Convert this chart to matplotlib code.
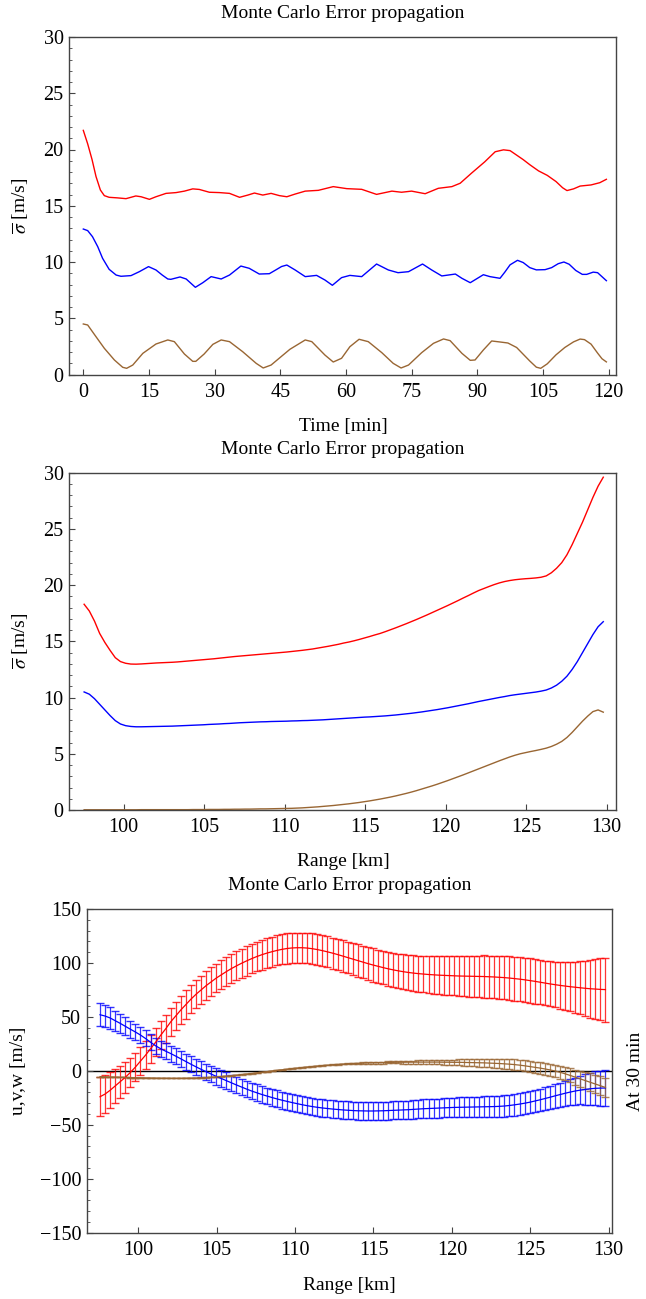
import numpy as np
import matplotlib
matplotlib.use("Agg")
import matplotlib.pyplot as plt
from matplotlib.ticker import MultipleLocator, FuncFormatter

plt.rcParams['font.family'] = ['Liberation Serif', 'DejaVu Serif']
plt.rcParams['mathtext.fontset'] = 'stix'

# ---------------- data: top panel (sigma vs time) ----------------
red_t = [0, 1, 2, 2.9, 3.9, 4.8, 5.9, 7.8, 9.75, 12.0, 13.2, 15.1, 16.6, 18.9, 21.2, 23.1, 25.0, 26.5,
         28.8, 31.1, 33.4, 35.7, 37.6, 39.1, 41.0, 42.9, 44.8, 46.5, 48.4, 50.7, 53.7, 57.1, 60.2,
         63.6, 67.0, 70.5, 72.7, 75.0, 78.1, 81.1, 84.2, 86.1, 88.7, 91.7, 94.1, 96.0, 97.5, 99.0,
         100.5, 102.0, 104.0, 106.0, 108.0, 109.5, 110.5, 112.0, 113.5, 116.0, 118.0, 119.5]
red_sig_t = [21.7, 20.5, 19.1, 17.6, 16.4, 15.9, 15.75, 15.7, 15.63, 15.87, 15.8, 15.57, 15.8, 16.1,
             16.17, 16.3, 16.5, 16.45, 16.2, 16.17, 16.1, 15.75, 15.95, 16.13, 15.95, 16.1, 15.9, 15.8,
             16.04, 16.3, 16.37, 16.7, 16.52, 16.46, 16.01, 16.3, 16.2, 16.3, 16.07, 16.55, 16.7, 17.0,
             17.9, 18.9, 19.8, 19.97, 19.9, 19.5, 19.1, 18.65, 18.1, 17.7, 17.15, 16.6, 16.35, 16.5,
             16.75, 16.85, 17.05, 17.35]

blue_t = [0, 1, 2.1, 3.3, 4.4, 5.9, 7.5, 8.6, 10.9, 12.8, 14.9, 16.6, 18.0, 19.3, 20.0, 22.1, 23.5,
          25.6, 27.3, 29.2, 31.5, 33.4, 36.0, 37.9, 40.2, 42.5, 44.0, 45.3, 46.5, 48.4, 50.7, 53.3,
          55.2, 56.9, 59.0, 60.9, 63.6, 67.0, 69.7, 71.9, 74.3, 77.5, 79.6, 81.9, 85.0, 86.5, 88.4,
          91.4, 92.9, 95.2, 96.3, 97.5, 99.2, 100.5, 102.0, 103.5, 105.5, 107.0, 108.5, 109.8,
          111.0, 112.5, 114.0, 115.0, 116.5, 117.5, 119.5]
blue_sig_t = [12.93, 12.79, 12.25, 11.36, 10.33, 9.35, 8.84, 8.73, 8.79, 9.14, 9.59, 9.29, 8.85,
              8.49, 8.46, 8.67, 8.49, 7.75, 8.16, 8.7, 8.49, 8.84, 9.64, 9.44, 8.93, 8.96, 9.3, 9.6,
              9.73, 9.29, 8.7, 8.81, 8.4, 7.93, 8.61, 8.81, 8.7, 9.82, 9.29, 9.05, 9.14, 9.82, 9.29,
              8.76, 8.93, 8.55, 8.16, 8.87, 8.7, 8.55, 9.1, 9.75, 10.15, 9.95, 9.5, 9.3, 9.32, 9.5,
              9.85, 10.0, 9.8, 9.25, 8.9, 8.9, 9.1, 9.05, 8.34]

brown_t = [0, 1, 2.9, 4.8, 7.1, 9.0, 9.9, 11.3, 13.6, 16.6, 19.3, 20.8, 23.1, 25.0, 25.7, 27.6, 29.6,
           31.5, 33.4, 36.4, 39.5, 41.1, 42.9, 45.2, 47.2, 50.7, 52.2, 55.2, 57.1, 59.0, 60.9, 63.0,
           65.1, 68.2, 70.8, 72.6, 74.3, 77.3, 80.0, 82.3, 83.8, 86.5, 88.4, 89.5, 91.4, 93.3, 95.2,
           97.0, 99.0, 100.0, 102.0, 103.5, 104.5, 106.0, 108.0, 110.0, 112.0, 113.5, 114.5, 116.0,
           117.5, 118.5, 119.5]
brown_sig_t = [4.49, 4.4, 3.36, 2.33, 1.29, 0.64, 0.55, 0.84, 1.88, 2.71, 3.07, 2.92, 1.82, 1.17,
               1.17, 1.82, 2.68, 3.07, 2.92, 2.03, 0.99, 0.58, 0.84, 1.59, 2.24, 3.07, 2.92, 1.73,
               1.11, 1.44, 2.47, 3.13, 2.92, 1.94, 0.99, 0.58, 0.84, 1.94, 2.77, 3.16, 3.01, 1.88,
               1.26, 1.29, 2.18, 2.98, 2.89, 2.8, 2.4, 2.0, 1.2, 0.65, 0.55, 0.95, 1.75, 2.4, 2.9,
               3.15, 3.1, 2.7, 1.9, 1.4, 1.12]

# ---------------- data: range grid (middle & bottom panels) ----------------
range_km = np.linspace(97.55, 129.8, 101)

red_sig_r = [18.3, 17.7, 16.8, 15.7, 14.9, 14.2, 13.55, 13.2, 13.05, 12.98,
             12.97, 12.99, 13.02, 13.05, 13.08, 13.10, 13.12, 13.14, 13.17, 13.21,
             13.25, 13.29, 13.33, 13.37, 13.41, 13.45, 13.50, 13.55, 13.60, 13.65,
             13.69, 13.73, 13.77, 13.81, 13.85, 13.89, 13.93, 13.97, 14.01, 14.05,
             14.10, 14.15, 14.20, 14.26, 14.32, 14.40, 14.48, 14.56, 14.65, 14.74,
             14.85, 14.94, 15.05, 15.17, 15.30, 15.43, 15.57, 15.70, 15.86, 16.03,
             16.20, 16.38, 16.56, 16.75, 16.94, 17.14, 17.34, 17.55, 17.76, 17.97,
             18.18, 18.40, 18.62, 18.85, 19.07, 19.30, 19.52, 19.70, 19.88, 20.05,
             20.20, 20.32, 20.41, 20.48, 20.53, 20.57, 20.60, 20.64, 20.70, 20.82,
             21.10, 21.5, 22.0, 22.7, 23.6, 24.6, 25.6, 26.7, 27.8, 28.8,
             29.6]

blue_sig_r = [10.5, 10.3, 9.9, 9.4, 8.9, 8.4, 7.95, 7.65, 7.5, 7.43,
              7.40, 7.40, 7.41, 7.42, 7.43, 7.44, 7.45, 7.46, 7.48, 7.50,
              7.52, 7.54, 7.56, 7.58, 7.61, 7.63, 7.65, 7.68, 7.70, 7.73,
              7.76, 7.78, 7.80, 7.82, 7.84, 7.85, 7.87, 7.88, 7.89, 7.90,
              7.92, 7.93, 7.95, 7.96, 7.98, 8.00, 8.02, 8.05, 8.08, 8.11,
              8.14, 8.17, 8.20, 8.23, 8.26, 8.28, 8.31, 8.34, 8.37, 8.41,
              8.45, 8.50, 8.55, 8.60, 8.66, 8.72, 8.79, 8.86, 8.93, 9.01,
              9.09, 9.18, 9.27, 9.36, 9.45, 9.55, 9.65, 9.74, 9.83, 9.92,
              10.01, 10.09, 10.18, 10.25, 10.31, 10.37, 10.43, 10.49, 10.57, 10.67,
              10.85, 11.1, 11.45, 11.9, 12.5, 13.2, 14.0, 14.8, 15.6, 16.3,
              16.75]

brown_sig_r = [0.02, 0.02, 0.02, 0.02, 0.02, 0.02, 0.02, 0.02, 0.02, 0.02,
               0.02, 0.03, 0.03, 0.03, 0.03, 0.03, 0.03, 0.03, 0.03, 0.03,
               0.03, 0.04, 0.04, 0.04, 0.05, 0.05, 0.05, 0.06, 0.06, 0.07,
               0.07, 0.08, 0.08, 0.09, 0.10, 0.10, 0.11, 0.12, 0.13, 0.14,
               0.15, 0.17, 0.19, 0.22, 0.25, 0.28, 0.32, 0.36, 0.40, 0.45,
               0.50, 0.55, 0.61, 0.67, 0.74, 0.81, 0.89, 0.97, 1.06, 1.15,
               1.25, 1.36, 1.47, 1.59, 1.72, 1.86, 2.00, 2.14, 2.29, 2.45,
               2.61, 2.78, 2.95, 3.12, 3.30, 3.48, 3.66, 3.84, 4.02, 4.20,
               4.38, 4.55, 4.72, 4.87, 5.00, 5.10, 5.20, 5.29, 5.39, 5.50,
               5.65, 5.85, 6.10, 6.45, 6.90, 7.40, 7.90, 8.35, 8.75, 8.90,
               8.70]

u_mean = [-24, -21.5, -18, -14, -10, -6, -1.5, 3.5, 9, 14.5,
          20.5, 26.5, 33, 39, 45.5, 51, 56.5, 61.5, 66.5, 71,
          75, 79, 82.5, 86, 89, 92, 94.8, 97.3, 99.7, 101.9,
          104, 105.9, 107.6, 109.1, 110.4, 111.6, 112.6, 113.4, 113.9, 114.1,
          114.1, 113.8, 113.2, 112.4, 111.4, 110.3, 109.1, 107.8, 106.4, 105,
          103.6, 102.2, 100.8, 99.4, 98.1, 96.9, 95.7, 94.6, 93.6, 92.7,
          91.9, 91.2, 90.6, 90.1, 89.7, 89.3, 89.0, 88.7, 88.5, 88.3,
          88.1, 87.9, 87.8, 87.7, 87.6, 87.5, 87.4, 87.2, 87.0, 86.7,
          86.4, 86.0, 85.5, 85.0, 84.4, 83.7, 83.0, 82.2, 81.4, 80.6,
          79.9, 79.2, 78.6, 78.0, 77.5, 77.0, 76.5, 76.1, 75.8, 75.5,
          75.3]

v_mean = [52.0, 50.8, 49.0, 46.5, 44.0, 41.3, 38.6, 36.0, 33.2, 30.0,
          26.5, 23.2, 20.5, 18.2, 16.0, 13.6, 11.1, 8.6, 6.1, 3.7,
          1.4, -0.8, -3.0, -5.1, -7.1, -9.1, -11.1, -13.1, -15.0, -16.9,
          -18.7, -20.3, -21.9, -23.3, -24.7, -26.0, -27.2, -28.3, -29.4, -30.4,
          -31.4, -32.3, -33.1, -33.8, -34.4, -34.9, -35.4, -35.8, -36.2, -36.5,
          -36.8, -37.0, -37.1, -37.2, -37.2, -37.1, -37.0, -36.8, -36.6, -36.4,
          -36.2, -36.0, -35.7, -35.4, -35.1, -34.9, -34.7, -34.5, -34.3, -34.1,
          -33.9, -33.8, -33.7, -33.6, -33.5, -33.4, -33.3, -33.2, -33.1, -32.9,
          -32.6, -32.1, -31.5, -30.8, -30.0, -29.1, -28.0, -26.9, -25.7, -24.5,
          -23.2, -22.0, -20.8, -19.7, -18.7, -17.9, -17.2, -16.6, -16.2, -16.0,
          -15.9]

w_mean = [-5.3, -5.5, -5.7, -5.8, -6.0, -6.1, -6.2, -6.3, -6.4, -6.5,
          -6.6, -6.7, -6.8, -6.8, -6.9, -6.9, -6.9, -6.8, -6.7, -6.6,
          -6.4, -6.2, -5.9, -5.6, -5.2, -4.8, -4.4, -3.9, -3.4, -2.9,
          -2.4, -1.8, -1.2, -0.7, -0.1, 0.5, 1.0, 1.6, 2.1, 2.6,
          3.1, 3.6, 4.0, 4.5, 4.9, 5.3, 5.6, 6.0, 6.3, 6.6,
          6.8, 7.0, 7.2, 7.4, 7.5, 7.6, 7.7, 7.8, 7.9, 8.0,
          8.0, 8.1, 8.1, 8.1, 8.1, 8.1, 8.1, 8.1, 8.0, 8.0,
          7.9, 7.9, 7.8, 7.7, 7.6, 7.5, 7.4, 7.2, 7.0, 6.8,
          6.5, 6.2, 5.8, 5.3, 4.7, 4.0, 3.3, 2.6, 1.8, 0.9,
          -0.1, -1.3, -2.7, -4.2, -5.8, -7.4, -9.0, -10.6, -12.2, -13.8,
          -15.4]

titles = "Monte Carlo Error propagation"
RED, BLUE, BROWN = '#ff0000', '#0000ff', '#996633'
FRAME = '#444444'
FS_TEXT = 14
FS_TICK = 14.5

W, H = 646, 1299
fig = plt.figure(figsize=(W / 100, H / 100), dpi=100)


def box(l, t, r, b):
    return [l / W, 1 - b / H, (r - l) / W, (b - t) / H]


def style(ax):
    for s in ax.spines.values():
        s.set_color(FRAME)
        s.set_linewidth(1.0)
    ax.tick_params(which='both', direction='in', top=False, right=False,
                   colors=FRAME, labelcolor='black', labelsize=FS_TICK)
    ax.tick_params(which='major', length=4.5, width=0.8)
    ax.tick_params(which='minor', length=2.5, width=0.6)
    ax.tick_params(axis='x', pad=6)
    ax.tick_params(axis='y', pad=4)


# ---- top panel
ax1 = fig.add_axes(box(69.3, 37, 616, 374.5))
ax1.plot(red_t, red_sig_t, color=RED, lw=1.0)
ax1.plot(blue_t, blue_sig_t, color=BLUE, lw=1.0)
ax1.plot(brown_t, brown_sig_t, color=BROWN, lw=1.0)
ax1.set_xlim(-3.2, 121.7)
ax1.set_ylim(0, 30)
ax1.xaxis.set_major_locator(MultipleLocator(15))
ax1.yaxis.set_major_locator(MultipleLocator(5))
ax1.yaxis.set_minor_locator(MultipleLocator(1))
style(ax1)

# ---- middle panel
ax2 = fig.add_axes(box(69.3, 472.7, 616, 810))
ax2.plot(range_km, red_sig_r, color=RED, lw=1.0)
ax2.plot(range_km, blue_sig_r, color=BLUE, lw=1.0)
ax2.plot(range_km, brown_sig_r, color=BROWN, lw=1.0)
ax2.set_xlim(96.63, 130.59)
ax2.set_ylim(0, 30)
ax2.xaxis.set_major_locator(MultipleLocator(5))
ax2.yaxis.set_major_locator(MultipleLocator(5))
ax2.yaxis.set_minor_locator(MultipleLocator(1))
style(ax2)

# ---- bottom panel
ax3 = fig.add_axes(box(86.7, 909, 611.7, 1232.7))
ax3.axhline(0, color='black', lw=1.0, zorder=1)
for mean, sig, col in [(u_mean, red_sig_r, RED), (v_mean, blue_sig_r, BLUE), (w_mean, brown_sig_r, BROWN)]:
    ax3.errorbar(range_km, mean, yerr=sig, fmt='none', ecolor=col, elinewidth=0.9,
                 capsize=2.6, capthick=1.0, alpha=0.8, zorder=2)
    ax3.plot(range_km, mean, color=col, lw=0.9, zorder=3)
ax3.set_xlim(96.7, 130.2)
ax3.set_ylim(-150, 150)
ax3.xaxis.set_major_locator(MultipleLocator(5))
ax3.yaxis.set_major_locator(MultipleLocator(50))
ax3.yaxis.set_minor_locator(MultipleLocator(10))
style(ax3)
ax3.yaxis.set_major_formatter(FuncFormatter(
    lambda v, p: ('\u2212%d' % abs(v)) if v < 0 else '%d' % v))

# ---- texts
def ftext(x, y, s, **kw):
    fig.text(x / W, 1 - y / H, s, ha='center', va='center', fontsize=FS_TEXT, **kw)

ftext(342.6, 14, titles)
ftext(342.6, 450, titles)
ftext(349.2, 886, titles)
ftext(343, 426, "Time [min]")
ftext(343, 861, "Range [km]")
ftext(349.2, 1285, "Range [km]")
ftext(20.5, 206, r"$\overline{\sigma}$ [m/s]", rotation=90)
ftext(20.5, 641, r"$\overline{\sigma}$ [m/s]", rotation=90)
ftext(19, 1071, "u,v,w [m/s]", rotation=90)
ftext(636, 1071, "At 30 min", rotation=90)

fig.savefig("out.png", dpi=100)
